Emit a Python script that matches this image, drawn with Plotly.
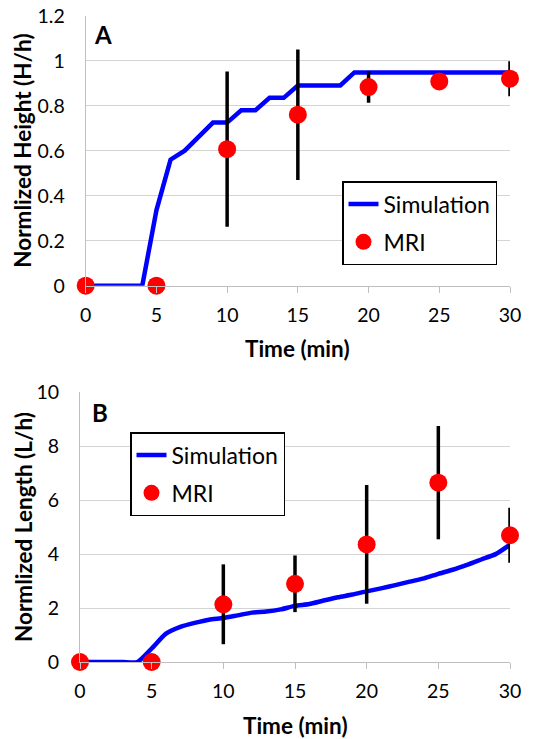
import plotly.graph_objects as go

# ---- data ----
sim_time_a = [0, 4, 5, 6, 7, 8, 9, 10, 11, 12, 13, 14, 15, 16, 17, 18, 19, 20, 25, 30]
sim_height = [0, 0, 0.335, 0.56, 0.60, 0.66, 0.725, 0.725, 0.78, 0.78, 0.835, 0.835,
              0.89, 0.89, 0.89, 0.89, 0.948, 0.948, 0.948, 0.948]
mri_time = [0, 5, 10, 15, 20, 25, 30]
mri_height = [0, 0, 0.607, 0.76, 0.883, 0.908, 0.92]
mri_height_err = [0, 0, 0.345, 0.29, 0.07, 0.0, 0.078]

sim_time_b = list(range(0, 31))
sim_length = [0, 0, 0, 0, 0, 0.5, 1.05, 1.3, 1.45, 1.57, 1.63, 1.73, 1.83, 1.87, 1.95,
              2.08, 2.15, 2.28, 2.4, 2.5, 2.62, 2.73, 2.85, 2.98, 3.1, 3.27, 3.42, 3.6,
              3.8, 4.0, 4.35]
mri_length = [0, 0, 2.14, 2.9, 4.36, 6.65, 4.7]
mri_length_err = [0, 0, 1.48, 1.05, 2.2, 2.1, 1.02]

x_ticks = [0, 5, 10, 15, 20, 25, 30]

FONT = "Lato"
W, H = 536, 739

def px_x(p):
    return p / W

def px_y(p):
    return 1 - p / H

fig = go.Figure()

# Panel A
fig.add_trace(go.Scatter(x=sim_time_a, y=sim_height, mode="lines", name="Simulation",
                         line=dict(color="#0000ff", width=4.5), xaxis="x", yaxis="y",
                         legend="legend", legendgroup="a1", cliponaxis=False))
fig.add_trace(go.Scatter(x=mri_time, y=mri_height, mode="markers", name="MRI",
                         marker=dict(color="#ff0000", size=18),
                         error_y=dict(type="data", array=mri_height_err, color="black",
                                      thickness=3.5, width=0),
                         xaxis="x", yaxis="y", legend="legend", legendgroup="a2",
                         cliponaxis=False))
# Panel B
fig.add_trace(go.Scatter(x=sim_time_b, y=sim_length, mode="lines", name="Simulation",
                         line=dict(color="#0000ff", width=4.5, shape="spline", smoothing=0.6),
                         xaxis="x2", yaxis="y2",
                         legend="legend2", legendgroup="b1", cliponaxis=False))
fig.add_trace(go.Scatter(x=mri_time, y=mri_length, mode="markers", name="MRI",
                         marker=dict(color="#ff0000", size=18),
                         error_y=dict(type="data", array=mri_length_err, color="black",
                                      thickness=3.5, width=0),
                         xaxis="x2", yaxis="y2", legend="legend2", legendgroup="b2",
                         cliponaxis=False))

grid = "#d4d4d4"
axis_common = dict(showgrid=False, showline=True, linecolor="#bfbfbf", linewidth=1,
                   ticks="outside", ticklen=6, tickcolor="#bfbfbf",
                   tickfont=dict(family=FONT, size=19.5, color="black"),
                   range=[0, 30], tickvals=x_ticks, zeroline=False, automargin=False,
                   ticklabelstandoff=6)
yaxis_common = dict(showgrid=True, gridcolor=grid, gridwidth=1, showline=True,
                    linecolor="#bfbfbf", linewidth=1, ticks="", zeroline=False,
                    tickfont=dict(family=FONT, size=19.5, color="black"),
                    automargin=False, ticklabelstandoff=16)

leg_common = dict(xanchor="left", yanchor="top", bordercolor="black", borderwidth=1.5,
                  bgcolor="white", font=dict(family=FONT, size=23, color="black"),
                  traceorder="grouped", tracegroupgap=5, itemwidth=30)

fig.update_layout(
    width=W, height=H,
    margin=dict(l=0, r=0, t=0, b=0),
    paper_bgcolor="white", plot_bgcolor="white",
    font=dict(family=FONT, color="black"),
    xaxis=dict(domain=[px_x(85.7), px_x(510)], anchor="y", **axis_common),
    yaxis=dict(domain=[px_y(285.7), px_y(15.7)], anchor="x", range=[0, 1.2],
               tickvals=[0, 0.2, 0.4, 0.6, 0.8, 1, 1.2],
               ticktext=["0", "0.2", "0.4", "0.6", "0.8", "1", "1.2"], **yaxis_common),
    xaxis2=dict(domain=[px_x(80), px_x(510)], anchor="y2", **axis_common),
    yaxis2=dict(domain=[px_y(662), px_y(392.3)], anchor="x2", range=[0, 10],
                tickvals=[0, 2, 4, 6, 8, 10], **yaxis_common),
    legend=dict(x=px_x(342), y=px_y(181), **leg_common),
    legend2=dict(x=px_x(130), y=px_y(432), **leg_common),
    showlegend=True,
)

ann_font = dict(family=FONT, size=22.5, color="black")
annotations = [
    dict(text="<b>A</b>", x=px_x(92), y=px_y(35), xanchor="left", yanchor="middle",
         showarrow=False, font=dict(family=FONT, size=24, color="black")),
    dict(text="<b>B</b>", x=px_x(90), y=px_y(412), xanchor="left", yanchor="middle",
         showarrow=False, font=dict(family=FONT, size=24, color="black")),
    dict(text="<b>Time (min)</b>", x=px_x(297.5), y=px_y(348), xanchor="center",
         yanchor="middle", showarrow=False, font=ann_font),
    dict(text="<b>Time (min)</b>", x=px_x(295), y=px_y(725), xanchor="center",
         yanchor="middle", showarrow=False, font=ann_font),
    dict(text="<b>Normlized Height (H/h)</b>", x=px_x(23), y=px_y(150.7), xanchor="center",
         yanchor="middle", textangle=-90, showarrow=False, font=ann_font),
    dict(text="<b>Normlized Length (L/h)</b>", x=px_x(23), y=px_y(527), xanchor="center",
         yanchor="middle", textangle=-90, showarrow=False, font=ann_font),
]
for a in annotations:
    a["xref"] = "paper"
    a["yref"] = "paper"
fig.update_layout(annotations=annotations)

fig.write_html("out.html")
